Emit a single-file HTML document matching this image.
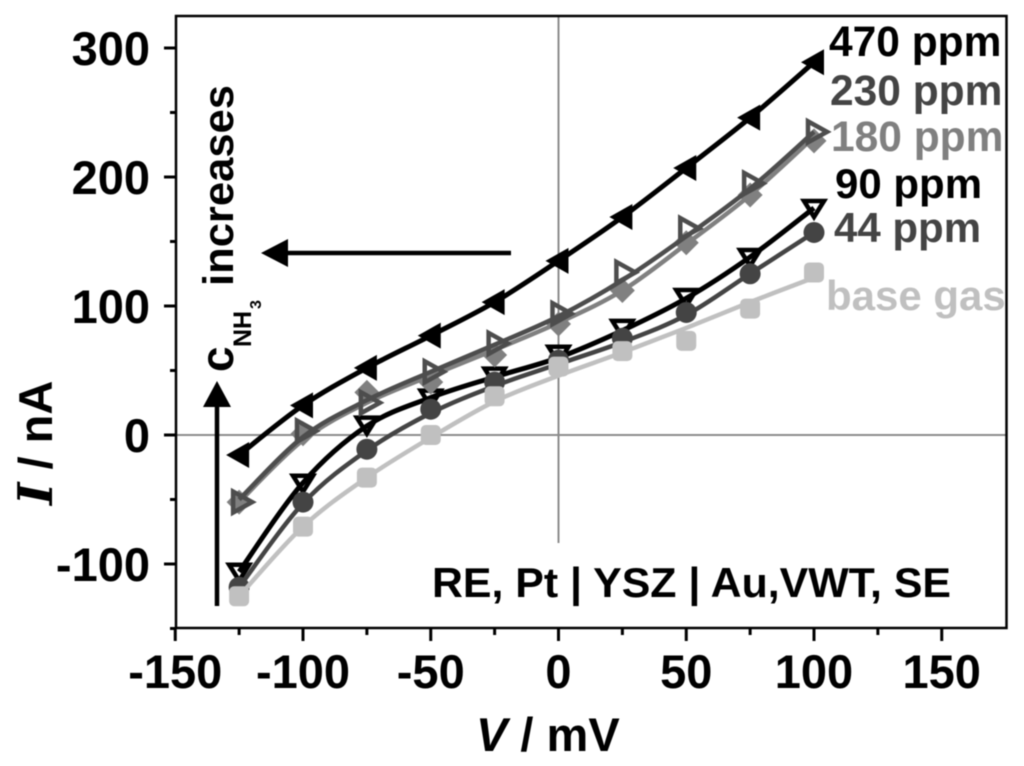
<!DOCTYPE html>
<html>
<head>
<meta charset="utf-8">
<style>
html,body{margin:0;padding:0;background:#fff;}
svg{display:block;filter:blur(0.45px);}
text{font-family:"Liberation Sans",sans-serif;font-weight:bold;}
</style>
</head>
<body>
<svg id="chart" width="1024" height="766" viewBox="0 0 1024 766" xmlns="http://www.w3.org/2000/svg"></svg>
<script>
const voltages = [-125,-100,-75,-50,-25,0,25,50,75,100];
const ppm470 = [-15.5,23,52,77,103,135,169,207,246,289];
const ppm230 = [-52,3,25,49,71,94,126,160,195,235];
const ppm180 = [-52,1,33,41,62,86,112,149,186,228];
const ppm90 = [-106,-37,8,29,46,63,83,107,138,176];
const ppm44 = [-118,-52,-11,20,41,58,75,95,125,157];
const baseGas = [-125,-71,-33,0,30,53,65,73,98,126];
const fit470 = [-15.5,23,52,77,103,135,169,207,246,289];
const fit230 = [-50,-1.5,27,49,70,92,120,154,191,235];
const fit180 = [-52,-4,25,46,66,87,112,148,186,231];
const fit90 = [-106,-37,7,29,45,60,81,106,138,176];
const fit44 = [-118,-53,-12,17,38,55,72,93,125,157];
const fitBase = [-125,-71,-33,-2,26,46,64,83,103,122];
const xTickLabels = [-150,-100,-50,0,50,100,150];
const yTickLabels = [-100,0,100,200,300];
const xMinorTicks = [-125,-75,-25,25,75,125];
const yMinorTicks = [-150,-50,50,150,250];

const NS = 'http://www.w3.org/2000/svg';
const svg = document.getElementById('chart');
const X = v => 558.5 + v * 2.555;
const Y = i => 435 - i * 1.29;

function mk(tag, attrs, parent, txt) {
  const el = document.createElementNS(NS, tag);
  for (const k in attrs) el.setAttribute(k, attrs[k]);
  if (txt !== undefined) el.textContent = txt;
  (parent || svg).appendChild(el);
  return el;
}

// reference lines
const vZero = mk('line', {x1:X(0), y1:16, x2:X(0), y2:543, stroke:'#8c8c8c', 'stroke-width':2});


const hZero = mk('line', {x1:176, y1:Y(0), x2:1006, y2:Y(0), stroke:'#8c8c8c', 'stroke-width':2});



// frame
const frame = mk('rect', {x:176, y:16, width:830.5, height:612, fill:'none', stroke:'#000', 'stroke-width':2.5});



// ticks
xTickLabels.forEach(v => {
  const t = mk('line', {x1:X(v), y1:628, x2:X(v), y2:641, stroke:'#000', 'stroke-width':3});
  
  
  const l = mk('text', {x:X(v), y:688, 'text-anchor':'middle', 'font-size':47, fill:'#000'}, svg, String(v));
  
  
});
xMinorTicks.forEach(v => {
  const t = mk('line', {x1:X(v), y1:628, x2:X(v), y2:635, stroke:'#000', 'stroke-width':3});
  
  
});
yTickLabels.forEach(v => {
  const t = mk('line', {x1:164, y1:Y(v), x2:176, y2:Y(v), stroke:'#000', 'stroke-width':3});
  
  
  const l = mk('text', {x:150, y:Y(v)+17, 'text-anchor':'end', 'font-size':47, fill:'#000'}, svg, String(v));
  
  
});
yMinorTicks.forEach(v => {
  const t = mk('line', {x1:170, y1:Y(v), x2:176, y2:Y(v), stroke:'#000', 'stroke-width':3});
  
  
});

function smoothPath(px) {
  let d = 'M' + px[0][0] + ' ' + px[0][1];
  for (let i = 0; i < px.length - 1; i++) {
    const p0 = px[Math.max(i-1,0)], p1 = px[i], p2 = px[i+1], p3 = px[Math.min(i+2,px.length-1)];
    const c1x = p1[0] + (p2[0]-p0[0])/6, c1y = p1[1] + (p2[1]-p0[1])/6;
    const c2x = p2[0] - (p3[0]-p1[0])/6, c2y = p2[1] - (p3[1]-p1[1])/6;
    d += ' C' + c1x + ' ' + c1y + ' ' + c2x + ' ' + c2y + ' ' + p2[0] + ' ' + p2[1];
  }
  return d;
}

function marker(g, kind, x, y, color) {
  if (kind === 'left') {
    return mk('polygon', {points:[[x-13,y],[x+10,y-13],[x+10,y+13]].join(' '), fill:color}, g);
  }
  if (kind === 'right') {
    return mk('polygon', {points:[[x+13,y],[x-6,y-10.5],[x-6,y+10.5]].join(' '), fill:'none', stroke:color, 'stroke-width':4.5}, g);
  }
  if (kind === 'down') {
    return mk('polygon', {points:[[x,y+9],[x-10,y-7],[x+10,y-7]].join(' '), fill:'none', stroke:color, 'stroke-width':4.5}, g);
  }
  if (kind === 'circle') {
    return mk('circle', {cx:x, cy:y, r:10.5, fill:color}, g);
  }
  if (kind === 'square') {
    return mk('rect', {x:x-10, y:y-10, width:20, height:20, rx:5, fill:color}, g);
  }
  return mk('polygon', {points:[[x,y-12.5],[x+12.5,y],[x,y+12.5],[x-12.5,y]].join(' '), fill:color}, g);
}

function drawSeries(name, values, fit, color, kind, width) {
  const g = mk('g', {});
  
  
  const px = voltages.map((v, i) => [X(v), Y(values[i])]);
  const fitPx = voltages.map((v, i) => [X(v), Y(fit[i])]);
  const line = mk('path', {d:smoothPath(fitPx), fill:'none', stroke:color, 'stroke-width':width, 'stroke-linejoin':'round'}, g);
  
  
  px.forEach(p => {
    const m = marker(g, kind, p[0], p[1], color);
    
    
  });
}

drawSeries('series-90-ppm', ppm90, fit90, '#000000', 'down', 5);
drawSeries('series-44-ppm', ppm44, fit44, '#444444', 'circle', 4.5);
drawSeries('series-base-gas', baseGas, fitBase, '#c0c0c0', 'square', 4.5);
drawSeries('series-180-ppm', ppm180, fit180, '#808080', 'diamond', 4.5);
drawSeries('series-230-ppm', ppm230, fit230, '#4d4d4d', 'right', 4.5);
drawSeries('series-470-ppm', ppm470, fit470, '#000000', 'left', 5);
</script>

<script>
(function(){
  const s = document.getElementById('chart');
  s.insertAdjacentHTML('beforeend', `
  <text x="829" y="56" font-size="42.5" fill="#000">470 ppm</text>
  <text x="830" y="105" font-size="42.5" fill="#444">230 ppm</text>
  <text x="831" y="151" font-size="42.5" fill="#808080">180 ppm</text>
  <text x="835" y="198" font-size="42" fill="#000">90 ppm</text>
  <text x="834" y="242" font-size="42" fill="#444">44 ppm</text>
  <text x="826" y="310" font-size="42" fill="#c0c0c0">base gas</text>
  <text x="432" y="597" font-size="42" fill="#000" textLength="519" lengthAdjust="spacingAndGlyphs">RE, Pt | YSZ | Au,VWT, SE</text>
  <text x="476" y="751" font-size="47" fill="#000"><tspan font-style="italic">V</tspan> / mV</text>
  <text transform="translate(52,505) rotate(-90)" font-size="47" fill="#000"><tspan font-style="italic" font-size="48" style="font-family:'DejaVu Serif',serif">I</tspan> / nA</text>
  <g transform="translate(233,372) rotate(-90)">
    <text x="0" y="0" font-size="46" fill="#000">c</text>
    <text x="25" y="18" font-size="25" fill="#000">NH</text>
    <text x="63" y="28" font-size="16" fill="#000">3</text>
    <text x="86" y="0" font-size="43" fill="#000" textLength="201" lengthAdjust="spacingAndGlyphs">increases</text>
  </g>
  <g>
    <line x1="217" y1="606" x2="217" y2="400" stroke="#000" stroke-width="4.5"/>
    <polygon points="217,381 231,407 203,407" fill="#000"/>
  </g>
  <g>
    <line x1="511" y1="253" x2="280" y2="253" stroke="#000" stroke-width="4.5"/>
    <polygon points="261,253 288,239 288,267" fill="#000"/>
  </g>`);
})();
</script>
</body>
</html>
